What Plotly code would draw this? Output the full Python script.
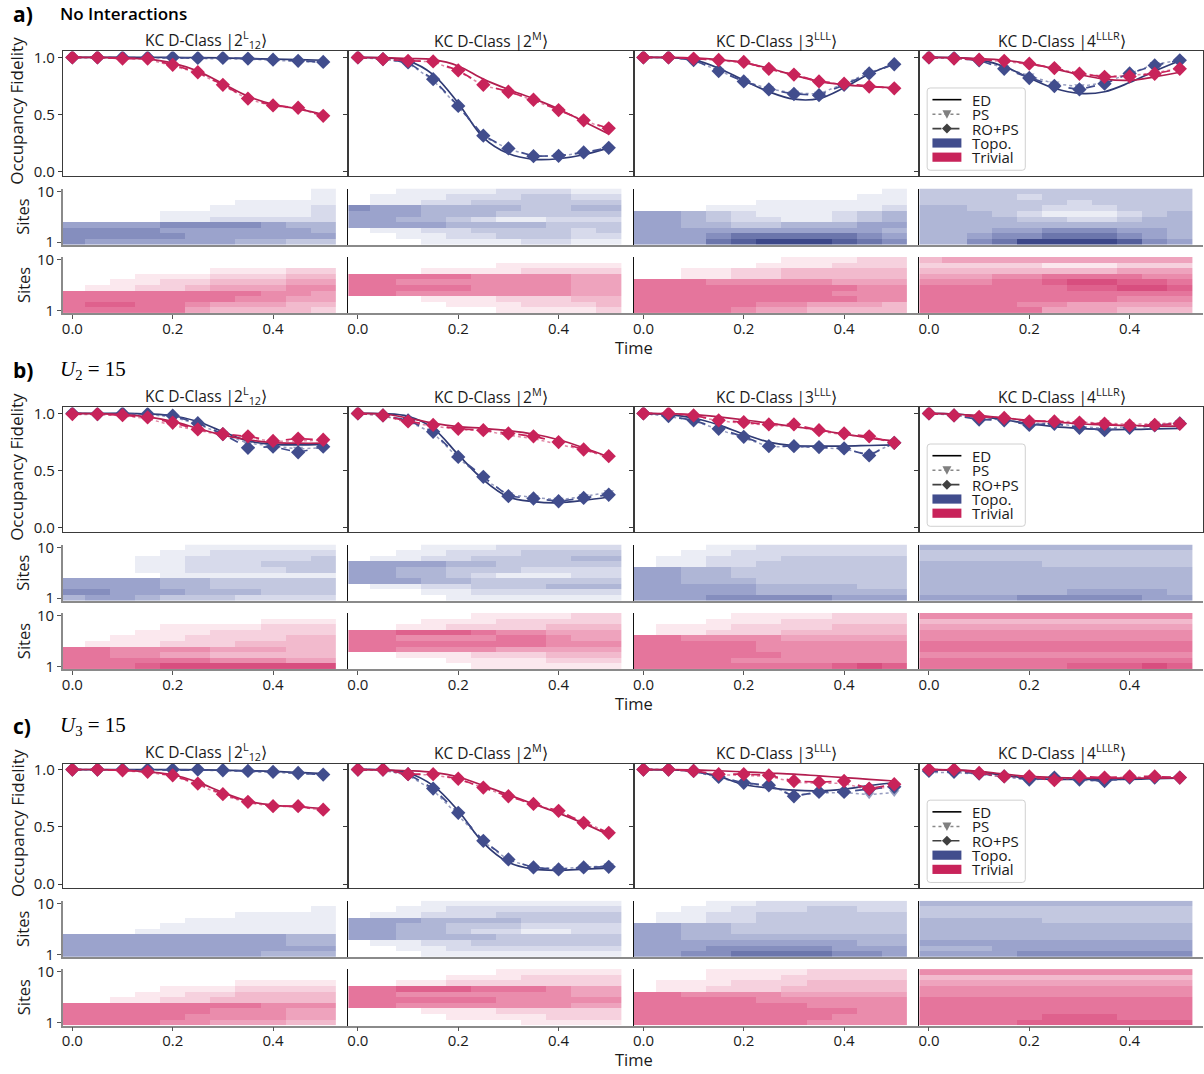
import plotly.graph_objects as go

W, H = 1204, 1074

# ---------------- data ----------------
T = [0.0, 0.05, 0.1, 0.15, 0.2, 0.25, 0.3, 0.35, 0.4, 0.45, 0.5]
SITES = [1, 2, 3, 4, 5, 6, 7, 8, 9, 10]
TIME_TICKS = [0.0, 0.2, 0.4]
TIME_TICK_TEXT = ["0.0", "0.2", "0.4"]
FID_TICKS = [0.0, 0.5, 1.0]
FID_TICK_TEXT = ["0.0", "0.5", "1.0"]
SITE_TICKS = [1, 10]
SITE_TICK_TEXT = ["1", "10"]

PANEL_LABELS = ["a)", "b)", "c)"]
PANEL_TITLES = ["No Interactions", "<i>U</i><sub>2</sub> = 15", "<i>U</i><sub>3</sub> = 15"]
COL_TITLES = ["KC D-Class |2<sup>L</sup><sub>12</sub>⟩", "KC D-Class |2<sup>M</sup>⟩",
              "KC D-Class |3<sup>LLL</sup>⟩", "KC D-Class |4<sup>LLLR</sup>⟩"]
LEGEND_LABELS = ["ED", "PS", "RO+PS", "Topo.", "Trivial"]

# Fidelity curves (ED = exact diag., PS, RO+PS), topological and trivial
A1_TOPO_ED = [1.0, 1.0, 1.0, 1.0, 1.0, 0.998, 0.995, 0.99, 0.985, 0.98, 0.975]
A1_TOPO_PS = [1.0, 1.0, 0.995, 0.995, 0.995, 0.99, 0.99, 0.985, 0.975, 0.965, 0.955]
A1_TOPO_RO = [1.0, 1.0, 1.0, 1.0, 1.0, 0.995, 0.995, 0.99, 0.98, 0.97, 0.96]
A1_TRIV_ED = [1.0, 1.0, 0.995, 0.985, 0.95, 0.88, 0.77, 0.66, 0.59, 0.55, 0.50]
A1_TRIV_PS = [1.0, 0.995, 0.99, 0.985, 0.925, 0.865, 0.755, 0.635, 0.575, 0.555, 0.485]
A1_TRIV_RO = [1.0, 1.0, 0.99, 0.99, 0.935, 0.87, 0.76, 0.64, 0.58, 0.56, 0.49]

A2_TOPO_ED = [1.0, 0.995, 0.97, 0.85, 0.60, 0.30, 0.16, 0.11, 0.115, 0.15, 0.21]
A2_TOPO_PS = [1.0, 0.985, 0.95, 0.80, 0.57, 0.31, 0.20, 0.135, 0.14, 0.165, 0.205]
A2_TOPO_RO = [1.0, 0.985, 0.956, 0.81, 0.576, 0.316, 0.205, 0.137, 0.14, 0.17, 0.21]
A2_TRIV_ED = [1.0, 0.998, 0.99, 0.98, 0.925, 0.81, 0.72, 0.64, 0.55, 0.44, 0.33]
A2_TRIV_PS = [1.0, 0.985, 0.97, 0.96, 0.88, 0.755, 0.70, 0.625, 0.54, 0.45, 0.37]
A2_TRIV_RO = [1.0, 0.985, 0.97, 0.965, 0.886, 0.76, 0.70, 0.63, 0.54, 0.45, 0.38]

A3_TOPO_ED = [1.0, 0.998, 0.98, 0.905, 0.80, 0.70, 0.635, 0.64, 0.735, 0.855, 0.945]
A3_TOPO_PS = [1.0, 1.0, 0.975, 0.885, 0.795, 0.725, 0.69, 0.68, 0.775, 0.865, 0.94]
A3_TOPO_RO = [1.0, 1.0, 0.977, 0.88, 0.79, 0.72, 0.68, 0.67, 0.76, 0.86, 0.94]
A3_TRIV_ED = [1.0, 1.0, 0.995, 0.98, 0.955, 0.905, 0.845, 0.79, 0.76, 0.745, 0.735]
A3_TRIV_PS = [1.0, 1.0, 0.99, 0.975, 0.955, 0.895, 0.845, 0.785, 0.765, 0.745, 0.73]
A3_TRIV_RO = [1.0, 1.0, 0.99, 0.977, 0.96, 0.90, 0.85, 0.79, 0.77, 0.745, 0.73]

A4_TOPO_ED = [1.0, 0.998, 0.98, 0.92, 0.82, 0.73, 0.685, 0.70, 0.78, 0.88, 0.97]
A4_TOPO_PS = [1.0, 0.995, 0.975, 0.91, 0.84, 0.77, 0.745, 0.78, 0.86, 0.94, 0.975]
A4_TOPO_RO = [1.0, 0.994, 0.974, 0.90, 0.82, 0.75, 0.72, 0.77, 0.86, 0.93, 0.974]
A4_TRIV_ED = [1.0, 0.998, 0.99, 0.975, 0.945, 0.90, 0.85, 0.81, 0.80, 0.83, 0.87]
A4_TRIV_PS = [1.0, 0.99, 0.98, 0.965, 0.94, 0.905, 0.86, 0.835, 0.84, 0.865, 0.905]
A4_TRIV_RO = [1.0, 0.99, 0.98, 0.97, 0.945, 0.907, 0.857, 0.83, 0.834, 0.857, 0.90]

B1_TOPO_ED = [1.0, 1.0, 1.0, 0.995, 0.98, 0.93, 0.84, 0.76, 0.73, 0.725, 0.73]
B1_TOPO_PS = [1.0, 0.995, 0.995, 0.99, 0.97, 0.905, 0.82, 0.74, 0.715, 0.69, 0.70]
B1_TOPO_RO = [1.0, 0.995, 1.0, 0.995, 0.98, 0.915, 0.82, 0.70, 0.71, 0.66, 0.71]
B1_TRIV_ED = [1.0, 0.998, 0.99, 0.97, 0.93, 0.87, 0.81, 0.77, 0.745, 0.74, 0.74]
B1_TRIV_PS = [0.99, 0.99, 0.98, 0.955, 0.895, 0.85, 0.81, 0.79, 0.755, 0.76, 0.765]
B1_TRIV_RO = [0.994, 0.994, 0.985, 0.965, 0.92, 0.86, 0.82, 0.80, 0.76, 0.78, 0.77]

B2_TOPO_ED = [1.0, 0.998, 0.975, 0.87, 0.64, 0.42, 0.27, 0.23, 0.22, 0.24, 0.27]
B2_TOPO_PS = [1.0, 0.98, 0.93, 0.83, 0.61, 0.43, 0.29, 0.265, 0.245, 0.275, 0.31]
B2_TOPO_RO = [1.0, 0.983, 0.94, 0.84, 0.62, 0.446, 0.277, 0.257, 0.233, 0.262, 0.29]
B2_TRIV_ED = [1.0, 0.995, 0.96, 0.915, 0.885, 0.87, 0.85, 0.82, 0.77, 0.70, 0.62]
B2_TRIV_PS = [1.0, 0.98, 0.92, 0.89, 0.86, 0.85, 0.81, 0.78, 0.73, 0.68, 0.62]
B2_TRIV_RO = [1.0, 0.983, 0.93, 0.90, 0.866, 0.854, 0.825, 0.80, 0.75, 0.685, 0.627]

B3_TOPO_ED = [1.0, 0.99, 0.96, 0.90, 0.82, 0.75, 0.72, 0.715, 0.715, 0.72, 0.725]
B3_TOPO_PS = [1.0, 0.975, 0.935, 0.86, 0.79, 0.71, 0.71, 0.70, 0.69, 0.64, 0.74]
B3_TOPO_RO = [1.0, 0.977, 0.94, 0.866, 0.796, 0.714, 0.714, 0.706, 0.694, 0.633, 0.743]
B3_TRIV_ED = [1.0, 0.998, 0.99, 0.97, 0.945, 0.915, 0.885, 0.855, 0.82, 0.785, 0.76]
B3_TRIV_PS = [1.0, 0.995, 0.98, 0.935, 0.915, 0.895, 0.89, 0.845, 0.815, 0.79, 0.745]
B3_TRIV_RO = [1.0, 1.0, 0.983, 0.94, 0.924, 0.904, 0.904, 0.854, 0.825, 0.80, 0.743]

B4_TOPO_ED = [1.0, 0.995, 0.975, 0.945, 0.91, 0.885, 0.87, 0.86, 0.86, 0.865, 0.87]
B4_TOPO_PS = [1.0, 0.985, 0.955, 0.945, 0.91, 0.915, 0.885, 0.87, 0.885, 0.90, 0.915]
B4_TOPO_RO = [1.0, 0.983, 0.947, 0.94, 0.90, 0.91, 0.875, 0.854, 0.875, 0.895, 0.913]
B4_TRIV_ED = [1.0, 0.995, 0.98, 0.96, 0.94, 0.925, 0.91, 0.90, 0.895, 0.89, 0.89]
B4_TRIV_PS = [1.0, 0.985, 0.975, 0.965, 0.935, 0.935, 0.925, 0.92, 0.905, 0.91, 0.92]
B4_TRIV_RO = [1.0, 0.983, 0.97, 0.96, 0.93, 0.93, 0.92, 0.91, 0.895, 0.90, 0.91]

C1_TOPO_ED = [1.0, 1.0, 1.0, 1.0, 1.0, 0.998, 0.995, 0.99, 0.985, 0.975, 0.965]
C1_TOPO_PS = [1.0, 1.0, 1.0, 0.995, 0.995, 0.995, 0.99, 0.985, 0.975, 0.965, 0.955]
C1_TOPO_RO = [1.0, 1.0, 1.0, 1.0, 1.0, 1.0, 0.994, 0.988, 0.98, 0.97, 0.956]
C1_TRIV_ED = [1.0, 1.0, 0.995, 0.98, 0.955, 0.89, 0.80, 0.725, 0.69, 0.675, 0.66]
C1_TRIV_PS = [1.0, 1.0, 0.99, 0.975, 0.945, 0.87, 0.775, 0.71, 0.68, 0.675, 0.645]
C1_TRIV_RO = [1.0, 1.0, 0.994, 0.98, 0.95, 0.878, 0.785, 0.718, 0.68, 0.68, 0.65]

C2_TOPO_ED = [1.0, 0.998, 0.97, 0.86, 0.64, 0.36, 0.19, 0.13, 0.12, 0.13, 0.14]
C2_TOPO_PS = [1.0, 0.995, 0.95, 0.82, 0.60, 0.37, 0.21, 0.145, 0.135, 0.15, 0.16]
C2_TOPO_RO = [1.0, 1.0, 0.96, 0.834, 0.622, 0.378, 0.215, 0.145, 0.128, 0.145, 0.151]
C2_TRIV_ED = [1.0, 0.998, 0.99, 0.975, 0.935, 0.86, 0.78, 0.70, 0.62, 0.53, 0.43]
C2_TRIV_PS = [1.0, 0.995, 0.955, 0.955, 0.915, 0.84, 0.765, 0.695, 0.635, 0.54, 0.45]
C2_TRIV_RO = [1.0, 1.0, 0.96, 0.96, 0.92, 0.843, 0.767, 0.70, 0.64, 0.535, 0.448]

C3_TOPO_ED = [1.0, 0.998, 0.985, 0.94, 0.87, 0.84, 0.82, 0.815, 0.83, 0.86, 0.885]
C3_TOPO_PS = [1.0, 1.0, 0.985, 0.93, 0.875, 0.86, 0.775, 0.795, 0.80, 0.78, 0.80]
C3_TOPO_RO = [1.0, 1.0, 0.988, 0.936, 0.884, 0.863, 0.767, 0.805, 0.805, 0.83, 0.85]
C3_TRIV_ED = [1.0, 1.0, 0.998, 0.99, 0.98, 0.97, 0.96, 0.945, 0.93, 0.915, 0.90]
C3_TRIV_PS = [1.0, 1.0, 0.985, 0.955, 0.95, 0.94, 0.89, 0.88, 0.88, 0.82, 0.86]
C3_TRIV_RO = [1.0, 1.0, 0.988, 0.96, 0.96, 0.95, 0.90, 0.89, 0.90, 0.834, 0.872]

C4_TOPO_ED = [1.0, 0.995, 0.98, 0.95, 0.925, 0.915, 0.915, 0.915, 0.915, 0.92, 0.925]
C4_TOPO_PS = [0.975, 0.975, 0.96, 0.935, 0.91, 0.925, 0.91, 0.895, 0.925, 0.925, 0.925]
C4_TOPO_RO = [0.988, 0.98, 0.965, 0.94, 0.913, 0.93, 0.913, 0.90, 0.93, 0.93, 0.93]
C4_TRIV_ED = [1.0, 0.998, 0.985, 0.96, 0.94, 0.93, 0.925, 0.925, 0.925, 0.925, 0.93]
C4_TRIV_PS = [1.0, 0.995, 0.965, 0.935, 0.935, 0.90, 0.935, 0.925, 0.935, 0.935, 0.93]
C4_TRIV_RO = [1.0, 1.0, 0.97, 0.94, 0.94, 0.907, 0.94, 0.93, 0.94, 0.94, 0.93]

# Site occupancy heat maps: intensity 0-9, rows listed from site 10 (top) to site 1 (bottom),
# one character per time step
HA1_TOPO = ["00000000001", "00000000001", "00000001111", "00000011112", "00001111112",
            "00001122222", "55556666544", "66665555554", "66666555555", "65555554433"]
HA1_TRIV = ["00000000000", "00000000000", "00000011122", "00011122233", "00112233344",
            "01122344455", "66666666554", "66666665544", "67766544433", "66666433332"]
HA2_TOPO = ["00111122211", "01112223322", "01122333333", "65544443344", "55544433333",
            "55443211222", "55554444333", "01122333323", "00112233322", "00011112211"]
HA2_TRIV = ["00000000000", "00000011111", "00011112222", "66666555544", "66555555544",
            "66666555544", "66555555544", "00011122233", "00001112223", "00000011112"]
HA3_TOPO = ["00000000001", "00000000011", "00000111111", "00011111112", "55432111234",
            "55432211234", "55443344455", "55555555554", "55567777765", "55578999876"]
HA3_TRIV = ["00000011122", "00000111222", "00112233333", "00112233333", "66655555444",
            "66666666655", "66666666555", "66666666655", "66666554443", "66665443333"]
HA4_TOPO = ["33333333333", "33332333333", "33333323333", "44333222333", "44432111234",
            "44443322344", "44444444444", "44455666554", "44566777654", "44679999865"]
HA4_TRIV = ["34444444444", "22222111222", "33333333444", "44455666655", "55566788776",
            "66666677887", "66666666666", "66666666555", "66665544444", "66666444333"]

HB1_TOPO = ["00000111111", "00001122222", "00011222223", "00011222333", "00011222233",
            "00001111111", "55554433333", "55554433333", "66555444333", "45543332222"]
HB1_TRIV = ["00000000000", "00000000111", "00001111222", "00011122222", "00111222233",
            "01112223333", "66555544433", "66554433333", "66666655544", "66678888888"]
HB2_TOPO = ["00011122222", "00112223333", "01122333344", "55554433333", "55443332222",
            "55443211122", "55544333333", "01122333444", "00011222222", "00001111111"]
HB2_TRIV = ["00000111122", "00011122222", "00112222333", "66777655444", "66555566544",
            "66666666555", "66555544444", "00111222333", "00001111222", "00000111111"]
HB3_TOPO = ["00011222222", "00112222222", "01122233333", "01122333333", "55443333333",
            "55443333333", "55444333333", "55555444433", "55555444444", "55566666555"]
HB3_TRIV = ["00001111222", "00011122222", "01112222333", "01122233333", "66555544444",
            "66666555555", "66666555555", "66666655555", "66665555555", "66666666787"]
HB4_TOPO = ["44444444444", "33333333333", "33333333333", "44444333333", "44444444444",
            "44444444444", "44444444444", "44444444444", "44444455554", "55556666655"]
HB4_TRIV = ["55555555555", "33333333333", "44444444444", "55555555555", "55555555555",
            "66666666666", "66666666666", "55555555555", "66666666666", "66666677787"]

HC1_TOPO = ["00000000000", "00000000001", "00000001111", "00000111111", "00001111111",
            "00011111111", "55555555544", "55555555544", "55555555555", "55555555444"]
HC1_TRIV = ["00000000000", "00000000000", "00000001111", "00001112222", "00011223333",
            "00112233333", "66666666555", "66666655544", "66666555544", "66665544433"]
HC2_TOPO = ["00011111111", "00112222222", "01122233333", "55544443333", "55443332222",
            "55443221122", "55444433333", "01122333333", "00112222222", "00011111111"]
HC2_TRIV = ["00000011111", "00001112222", "00112222222", "66777666544", "66555555544",
            "66666655555", "66555555544", "00011122222", "00001111222", "00000001111"]
HC3_TOPO = ["00011222222", "00112223322", "01122333333", "01122333333", "55443333333",
            "55443333333", "55444444444", "55555555544", "55566666555", "55667777665"]
HC3_TRIV = ["00011112222", "00011122222", "01112223333", "01122233333", "66555544444",
            "66666555555", "66666665555", "66666666655", "66666666555", "66666665555"]
HC4_TOPO = ["44444444444", "33333333333", "33333333333", "44444333333", "44444444444",
            "44444444444", "44444444444", "55555555555", "44455555555", "55556666666"]
HC4_TRIV = ["55555555555", "33333333333", "44444444444", "55555555555", "55555555555",
            "66666666666", "66666666666", "66666666666", "66666777666", "66667777777"]

FID = [
    [(A1_TOPO_ED, A1_TOPO_PS, A1_TOPO_RO, A1_TRIV_ED, A1_TRIV_PS, A1_TRIV_RO),
     (A2_TOPO_ED, A2_TOPO_PS, A2_TOPO_RO, A2_TRIV_ED, A2_TRIV_PS, A2_TRIV_RO),
     (A3_TOPO_ED, A3_TOPO_PS, A3_TOPO_RO, A3_TRIV_ED, A3_TRIV_PS, A3_TRIV_RO),
     (A4_TOPO_ED, A4_TOPO_PS, A4_TOPO_RO, A4_TRIV_ED, A4_TRIV_PS, A4_TRIV_RO)],
    [(B1_TOPO_ED, B1_TOPO_PS, B1_TOPO_RO, B1_TRIV_ED, B1_TRIV_PS, B1_TRIV_RO),
     (B2_TOPO_ED, B2_TOPO_PS, B2_TOPO_RO, B2_TRIV_ED, B2_TRIV_PS, B2_TRIV_RO),
     (B3_TOPO_ED, B3_TOPO_PS, B3_TOPO_RO, B3_TRIV_ED, B3_TRIV_PS, B3_TRIV_RO),
     (B4_TOPO_ED, B4_TOPO_PS, B4_TOPO_RO, B4_TRIV_ED, B4_TRIV_PS, B4_TRIV_RO)],
    [(C1_TOPO_ED, C1_TOPO_PS, C1_TOPO_RO, C1_TRIV_ED, C1_TRIV_PS, C1_TRIV_RO),
     (C2_TOPO_ED, C2_TOPO_PS, C2_TOPO_RO, C2_TRIV_ED, C2_TRIV_PS, C2_TRIV_RO),
     (C3_TOPO_ED, C3_TOPO_PS, C3_TOPO_RO, C3_TRIV_ED, C3_TRIV_PS, C3_TRIV_RO),
     (C4_TOPO_ED, C4_TOPO_PS, C4_TOPO_RO, C4_TRIV_ED, C4_TRIV_PS, C4_TRIV_RO)],
]
HEAT = [
    [(HA1_TOPO, HA1_TRIV), (HA2_TOPO, HA2_TRIV), (HA3_TOPO, HA3_TRIV), (HA4_TOPO, HA4_TRIV)],
    [(HB1_TOPO, HB1_TRIV), (HB2_TOPO, HB2_TRIV), (HB3_TOPO, HB3_TRIV), (HB4_TOPO, HB4_TRIV)],
    [(HC1_TOPO, HC1_TRIV), (HC2_TOPO, HC2_TRIV), (HC3_TOPO, HC3_TRIV), (HC4_TOPO, HC4_TRIV)],
]

# ---------------- style / layout ----------------
TOPO = "#414d8d"
TRIV = "#c8235a"
TOPO_DARK = "#2f3a74"
TRIV_DARK = "#b21d4f"
TOPO_SCALE = [[0, "#ffffff"], [0.6, "#939cc8"], [1, "#3c4789"]]
TRIV_SCALE = [[0, "#ffffff"], [0.65, "#e6789e"], [1, "#d23a70"]]
FONT = "Open Sans"
TXT = "#1a1a1a"

COL_LEFT = [62, 348, 634, 920]
COL_RIGHT = [348, 634, 920, 1204]
PX_PER_T = 502.5
X0 = -0.0189
PANEL_OFF = [0, 356.6, 713.3]
ROWS = [(51.7, 176.7), (189.0, 245.5), (257.5, 314.0)]
# vertical calibration of the page snapshot
Y_SHIFT, Y_SCALE = 8.2, 0.9885


def fx(x):
    return x / W


def fy(y):
    return 1 - ((y - Y_SHIFT) / Y_SCALE) / H


def decode(rows):
    return [[int(ch) for ch in r] for r in reversed(rows)]


fig = go.Figure()
lay = {}
annotations = []
shapes = []

for p in range(3):
    off = PANEL_OFF[p]
    for r in range(3):
        for c in range(4):
            idx = p * 12 + r * 4 + c + 1
            xn = "x" if idx == 1 else f"x{idx}"
            yn = "y" if idx == 1 else f"y{idx}"
            xk = "xaxis" if idx == 1 else f"xaxis{idx}"
            yk = "yaxis" if idx == 1 else f"yaxis{idx}"
            top, bot = ROWS[r][0] + off, ROWS[r][1] + off
            xl, xr = COL_LEFT[c], COL_RIGHT[c]
            xrange = [X0, X0 + (xr - xl) / PX_PER_T]
            if r == 0:
                lay[xk] = dict(domain=[fx(xl), fx(xr)], range=xrange, anchor=yn,
                               showline=True, mirror=True, linecolor="#3a3a3a", linewidth=1,
                               showgrid=False, zeroline=False, showticklabels=False, ticks="")
                lay[yk] = dict(domain=[fy(bot), fy(top)], range=[-0.038, 1.052], anchor=xn,
                               showline=True, mirror=True, linecolor="#3a3a3a", linewidth=1,
                               showgrid=False, zeroline=False, tickvals=FID_TICKS,
                               ticktext=FID_TICK_TEXT, showticklabels=(c == 0),
                               ticks="outside", ticklen=4, tickcolor="#3a3a3a",
                               tickfont=dict(family=FONT, size=15, color=TXT))
                topo_ed, topo_ps, topo_ro, triv_ed, triv_ps, triv_ro = FID[p][c]
                for (ed, ps, ro, col, dcol) in [(topo_ed, topo_ps, topo_ro, TOPO, TOPO_DARK),
                                                 (triv_ed, triv_ps, triv_ro, TRIV, TRIV_DARK)]:
                    fig.add_trace(go.Scatter(x=T, y=ed, mode="lines", xaxis=xn, yaxis=yn,
                                             line=dict(color=dcol, width=1.7, shape="spline"),
                                             showlegend=False, hoverinfo="skip"))
                    fig.add_trace(go.Scatter(x=T, y=ps, mode="lines+markers", xaxis=xn, yaxis=yn,
                                             line=dict(color=col, width=1.5, dash="dot"),
                                             marker=dict(symbol="triangle-down", size=9, color=col),
                                             opacity=0.55, showlegend=False, hoverinfo="skip"))
                    fig.add_trace(go.Scatter(x=T, y=ro, mode="lines+markers", xaxis=xn, yaxis=yn,
                                             line=dict(color=col, width=1.7, dash="dash"),
                                             marker=dict(symbol="diamond", size=11, color=col),
                                             showlegend=False, hoverinfo="skip"))
            else:
                rows = HEAT[p][c][r - 1]
                scale = TOPO_SCALE if r == 1 else TRIV_SCALE
                fig.add_trace(go.Heatmap(x=T, y=SITES, z=decode(rows), zmin=0, zmax=9,
                                         colorscale=scale, showscale=False, xaxis=xn, yaxis=yn,
                                         hoverinfo="skip"))
                lay[xk] = dict(domain=[fx(xl), fx(xr)], range=xrange, anchor=yn,
                               showline=True, mirror=False, linecolor="#8a8a8a", linewidth=1.5,
                               showgrid=False, zeroline=False,
                               tickvals=TIME_TICKS, ticktext=TIME_TICK_TEXT,
                               showticklabels=(r == 2), ticks=("outside" if r == 2 else ""),
                               ticklen=4, tickcolor="#555", ticklabelstandoff=-3,
                               tickfont=dict(family=FONT, size=15, color=TXT))
                lay[yk] = dict(domain=[fy(bot), fy(top)], range=[0.5, 10.5], anchor=xn,
                               showline=True, mirror=False,
                               linecolor=("#8a8a8a" if c == 0 else "#111111"),
                               linewidth=(1.5 if c == 0 else 1.2),
                               showgrid=False, zeroline=False,
                               tickvals=SITE_TICKS, ticktext=SITE_TICK_TEXT,
                               showticklabels=(c == 0), ticks=("outside" if c == 0 else ""),
                               ticklen=4, tickcolor="#555",
                               tickfont=dict(family=FONT, size=15, color=TXT))

    # panel label & title
    annotations.append(dict(x=fx(10), y=fy(14 + off), xref="paper", yref="paper",
                            text="<b>" + PANEL_LABELS[p] + "</b>", showarrow=False,
                            xanchor="left", yanchor="middle",
                            font=dict(family=FONT, size=21, color="#000")))
    if p == 0:
        annotations.append(dict(x=fx(57), y=fy(14 + off), xref="paper", yref="paper",
                                text=PANEL_TITLES[p], showarrow=False, xanchor="left",
                                yanchor="middle",
                                font=dict(family=FONT, size=17, color="#000", weight=600)))
    else:
        annotations.append(dict(x=fx(57), y=fy(14 + off), xref="paper", yref="paper",
                                text=PANEL_TITLES[p], showarrow=False, xanchor="left",
                                yanchor="middle",
                                font=dict(family="Liberation Serif", size=21, color="#000")))
    for c in range(4):
        annotations.append(dict(x=fx((COL_LEFT[c] + COL_LEFT[c] + 286) / 2), y=fy(40 + off),
                                xref="paper", yref="paper", text=COL_TITLES[c], showarrow=False,
                                xanchor="center", yanchor="middle",
                                font=dict(family=FONT, size=15.5, color=TXT)))
    annotations.append(dict(x=fx(16), y=fy((ROWS[0][0] + ROWS[0][1]) / 2 + off - 3),
                            xref="paper", yref="paper", text="Occupancy Fidelity",
                            showarrow=False, textangle=-90, xanchor="center", yanchor="middle",
                            font=dict(family=FONT, size=17, color=TXT)))
    for r in (1, 2):
        annotations.append(dict(x=fx(22), y=fy((ROWS[r][0] + ROWS[r][1]) / 2 + off),
                                xref="paper", yref="paper", text="Sites", showarrow=False,
                                textangle=-90, xanchor="center", yanchor="middle",
                                font=dict(family=FONT, size=16.5, color=TXT)))
    annotations.append(dict(x=fx(634), y=fy(348 + off), xref="paper", yref="paper",
                            text="Time", showarrow=False, xanchor="center", yanchor="middle",
                            font=dict(family=FONT, size=16.5, color=TXT)))

    # legend (drawn manually, inside the 4th column)
    bx0, bx1, by0, by1 = 927.7, 1026, 88.3 + off, 170.7 + off
    rr = 3
    path = (f"M {fx(bx0 + rr)},{fy(by0)} L {fx(bx1 - rr)},{fy(by0)} "
            f"Q {fx(bx1)},{fy(by0)} {fx(bx1)},{fy(by0 + rr)} L {fx(bx1)},{fy(by1 - rr)} "
            f"Q {fx(bx1)},{fy(by1)} {fx(bx1 - rr)},{fy(by1)} L {fx(bx0 + rr)},{fy(by1)} "
            f"Q {fx(bx0)},{fy(by1)} {fx(bx0)},{fy(by1 - rr)} L {fx(bx0)},{fy(by0 + rr)} "
            f"Q {fx(bx0)},{fy(by0)} {fx(bx0 + rr)},{fy(by0)} Z")
    shapes.append(dict(type="path", xref="paper", yref="paper", path=path,
                       line=dict(color="#d0d0d0", width=1), fillcolor="rgba(255,255,255,0.85)"))
    gx0, gx1 = 933, 962
    gxc = (gx0 + gx1) / 2
    ys = [100 + off, 114.6 + off, 129 + off, 143.4 + off, 157.6 + off]
    shapes.append(dict(type="line", xref="paper", yref="paper", x0=fx(gx0), x1=fx(gx1),
                       y0=fy(ys[0]), y1=fy(ys[0]), line=dict(color="#000", width=1.6)))
    shapes.append(dict(type="line", xref="paper", yref="paper", x0=fx(gx0), x1=fx(gx1),
                       y0=fy(ys[1]), y1=fy(ys[1]), line=dict(color="#888", width=1.5, dash="dot")))
    shapes.append(dict(type="path", xref="paper", yref="paper",
                       path=(f"M {fx(gxc - 4.5)},{fy(ys[1] - 4)} L {fx(gxc + 4.5)},{fy(ys[1] - 4)} "
                             f"L {fx(gxc)},{fy(ys[1] + 4.5)} Z"),
                       line=dict(width=0), fillcolor="#808080"))
    shapes.append(dict(type="line", xref="paper", yref="paper", x0=fx(gx0), x1=fx(gx1),
                       y0=fy(ys[2]), y1=fy(ys[2]), line=dict(color="#404040", width=1.6, dash="dash")))
    shapes.append(dict(type="path", xref="paper", yref="paper",
                       path=(f"M {fx(gxc)},{fy(ys[2] - 5)} L {fx(gxc + 5)},{fy(ys[2])} "
                             f"L {fx(gxc)},{fy(ys[2] + 5)} L {fx(gxc - 5)},{fy(ys[2])} Z"),
                       line=dict(width=0), fillcolor="#404040"))
    for yy, colr in [(ys[3], TOPO), (ys[4], TRIV)]:
        shapes.append(dict(type="rect", xref="paper", yref="paper", x0=fx(gx0), x1=fx(gx1),
                           y0=fy(yy - 4.6), y1=fy(yy + 4.6), line=dict(width=0), fillcolor=colr))
    for lab, yy in zip(LEGEND_LABELS, ys):
        annotations.append(dict(x=fx(971), y=fy(yy), xref="paper", yref="paper", text=lab,
                                showarrow=False, xanchor="left", yanchor="middle",
                                font=dict(family=FONT, size=15, color=TXT)))

fig.update_layout(width=W, height=H, margin=dict(l=0, r=0, t=0, b=0),
                  paper_bgcolor="white", plot_bgcolor="white", showlegend=False,
                  annotations=annotations, shapes=shapes, **lay)
fig.write_html("out.html", config={"displayModeBar": False},
               post_script="document.body.style.margin='0px';"
                           "document.documentElement.style.overflow='hidden';")
